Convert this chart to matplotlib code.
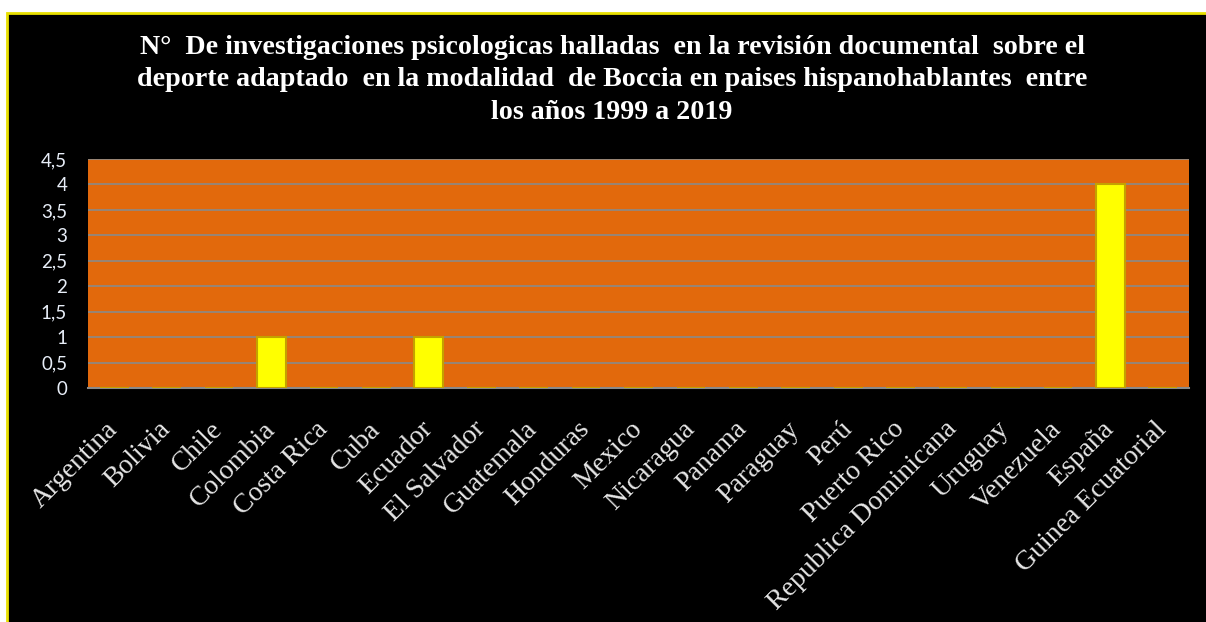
import matplotlib
matplotlib.use("Agg")
import matplotlib.pyplot as plt
from matplotlib.patches import Rectangle

paises = ["Argentina", "Bolivia", "Chile", "Colombia", "Costa Rica", "Cuba",
          "Ecuador", "El Salvador", "Guatemala", "Honduras", "Mexico",
          "Nicaragua", "Panama", "Paraguay", "Perú", "Puerto Rico",
          "Republica Dominicana", "Uruguay", "Venezuela", "España",
          "Guinea Ecuatorial"]
investigaciones = [0, 0, 0, 1, 0, 0, 1, 0, 0, 0, 0, 0, 0, 0, 0, 0, 0, 0, 0, 4, 0]
y_ticks = [0, 0.5, 1, 1.5, 2, 2.5, 3, 3.5, 4, 4.5]
y_labels = ["0", "0,5", "1", "1,5", "2", "2,5", "3", "3,5", "4", "4,5"]

titulo = ("N°  De investigaciones psicologicas halladas  en la revisión documental  sobre el\n"
          "deporte adaptado  en la modalidad  de Boccia en paises hispanohablantes  entre\n"
          "los años 1999 a 2019")

W, H = 1206, 622
fig = plt.figure(figsize=(W / 100, H / 100), dpi=100)
fig.patch.set_facecolor("white")

# black chart area with yellow border (cut off on right and bottom)
fig.patches.append(Rectangle((6.5 / W, -0.05), 1.1, 1 - 12.5 / H + 0.05,
                             transform=fig.transFigure, facecolor="black",
                             edgecolor="#E8E000", linewidth=2, zorder=0))

ax = fig.add_axes([88 / W, 1 - 388 / H, (1189 - 88) / W, (388 - 159) / H])
ax.set_zorder(2)
ax.set_facecolor("#E2690C")
x = range(len(paises))
ax.bar(x, investigaciones, width=0.55, color="#FFFF00", edgecolor="#C4A200",
       linewidth=1.5, zorder=3)

ax.set_xlim(-0.5, len(paises) - 0.5)
ax.set_ylim(0, 4.5)
ax.set_yticks(y_ticks)
ax.set_yticklabels(y_labels, fontfamily="Lato", fontsize=13.5, color="#E8EEF8")
ax.yaxis.grid(True, color="#8A8A8A", linewidth=1.2, zorder=1)
ax.set_axisbelow(True)
ax.tick_params(axis="y", length=0, pad=15)
ax.tick_params(axis="x", length=0, pad=27)
ax.set_xticks(list(x))
ax.set_xticklabels(paises, rotation=45, ha="right", va="center",
                   rotation_mode="anchor",
                   fontfamily="Liberation Serif", fontsize=20, color="#E6E6E6")

for s in ["top", "right", "left"]:
    ax.spines[s].set_visible(False)
ax.spines["bottom"].set_color("#8A8A8A")
ax.spines["bottom"].set_linewidth(1.5)

fig.text(612 / W, 1 - 80 / H, titulo, ha="center", va="center",
         multialignment="center", fontfamily="Liberation Serif",
         fontweight="bold", fontsize=20.2, color="white", linespacing=1.42,
         zorder=3)

fig.savefig("out.png", dpi=100, facecolor=fig.get_facecolor())
